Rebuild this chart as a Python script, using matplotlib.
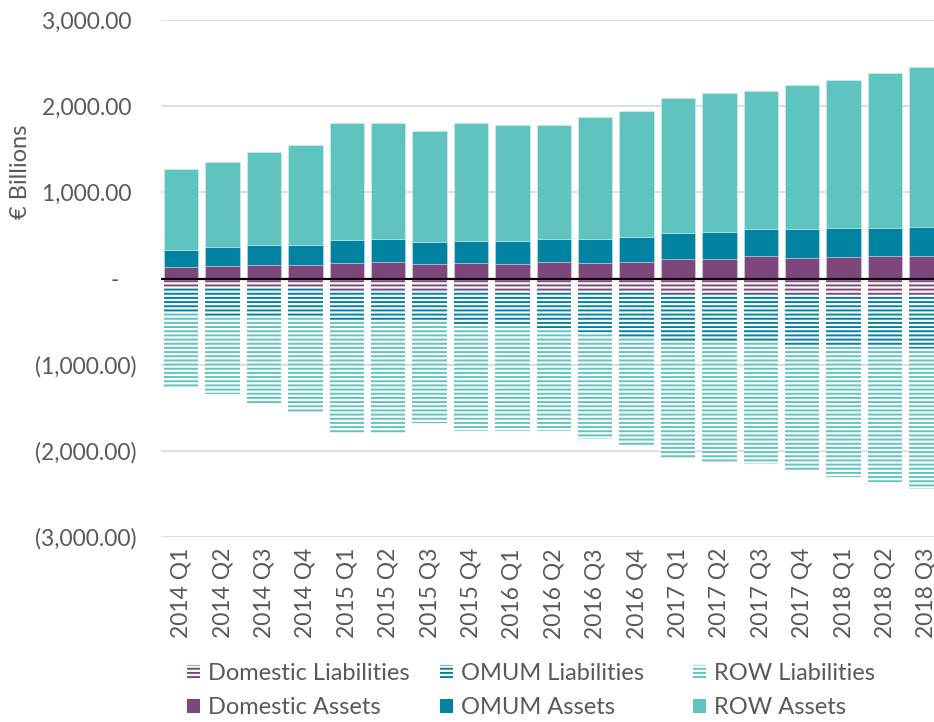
import numpy as np
import matplotlib
matplotlib.use("Agg")
import matplotlib.pyplot as plt
from matplotlib.patches import Patch
from matplotlib.ticker import FixedLocator, FuncFormatter

plt.rcParams['font.family'] = ['Lato', 'DejaVu Sans']
plt.rcParams['hatch.linewidth'] = 1.4

quarters = ['2014 Q1', '2014 Q2', '2014 Q3', '2014 Q4',
            '2015 Q1', '2015 Q2', '2015 Q3', '2015 Q4',
            '2016 Q1', '2016 Q2', '2016 Q3', '2016 Q4',
            '2017 Q1', '2017 Q2', '2017 Q3', '2017 Q4',
            '2018 Q1', '2018 Q2', '2018 Q3']

# € billions
domestic_assets = [128, 140, 151, 156, 179, 186, 167, 179, 174, 190,
                   183, 190, 223, 228, 256, 240, 248, 256, 263]
omum_assets = [206, 229, 233, 228, 271, 267, 252, 259, 256, 271,
               278, 287, 306, 310, 317, 330, 333, 329, 337]
row_assets = [933, 984, 1089, 1171, 1357, 1346, 1287, 1361, 1346, 1326,
              1411, 1465, 1570, 1610, 1606, 1674, 1721, 1803, 1850]

domestic_liabilities = [105, 110, 115, 120, 135, 135, 130, 135, 140, 145,
                        150, 160, 175, 180, 185, 185, 186, 190, 195]
omum_liabilities = [280, 330, 330, 325, 360, 365, 370, 405, 410, 435,
                    470, 530, 555, 555, 555, 590, 594, 605, 615]
row_liabilities = [882, 904, 1020, 1108, 1307, 1302, 1174, 1231, 1221, 1187,
                   1244, 1247, 1370, 1400, 1418, 1469, 1522, 1565, 1632]

y_ticks = [3000, 2000, 1000, 0, -1000, -2000, -3000]

c_dom = '#7E477C'
c_omum = '#0082A0'
c_row = '#5FC4C0'
text_c = '#595959'
grid_c = '#D9D9D9'

fig = plt.figure(figsize=(9.34, 7.22), dpi=100)
left_px, right_px, top_px, bottom_px = 160.5, 934, 20, 537
W, H = 934, 722
ax = fig.add_axes([left_px / W, 1 - bottom_px / H,
                   (right_px - left_px) / W, (bottom_px - top_px) / H])

x = np.arange(len(quarters))
bw = 0.83
da = np.array(domestic_assets)
oa = np.array(omum_assets)
ra = np.array(row_assets)
dl = -np.array(domestic_liabilities)
ol = -np.array(omum_liabilities)
rl = -np.array(row_liabilities)

edge_kw = dict(edgecolor=(1, 1, 1, 0.35), linewidth=0.6)
ax.bar(x, da, bw, color=c_dom, zorder=3, **edge_kw)
ax.bar(x, oa, bw, bottom=da, color=c_omum, zorder=3, **edge_kw)
ax.bar(x, ra, bw, bottom=da + oa, color=c_row, zorder=3, **edge_kw)

hatch = '----'
ax.bar(x, dl, bw, facecolor='white', edgecolor=c_dom, linewidth=0, hatch=hatch, zorder=3)
ax.bar(x, ol, bw, bottom=dl, facecolor='white', edgecolor=c_omum, linewidth=0, hatch=hatch, zorder=3)
ax.bar(x, rl, bw, bottom=dl + ol, facecolor='white', edgecolor=c_row, linewidth=0, hatch=hatch, zorder=3)

ax.axhline(0, color='black', linewidth=1.6, zorder=4)

ax.set_ylim(-3000, 3000)
ax.set_xlim(-0.5, -0.5 + (right_px - left_px) / 41.4)
ax.yaxis.set_major_locator(FixedLocator(y_ticks))


def acct(v, pos=None):
    if v == 0:
        return '-   '
    if v < 0:
        return '({:,.2f})'.format(-v)
    return '{:,.2f} '.format(v)


ax.yaxis.set_major_formatter(FuncFormatter(acct))
ax.grid(axis='y', color=grid_c, linewidth=1.2, zorder=0)
ax.set_axisbelow(True)
for s in ax.spines.values():
    s.set_visible(False)
ax.tick_params(axis='y', length=0, pad=17, labelsize=16.5, labelcolor=text_c)
ax.tick_params(axis='x', length=0, pad=8, labelsize=16.5, labelcolor=text_c)
ax.set_xticks(x)
ax.set_xticklabels(quarters, rotation=90)

ax.set_ylabel('€ Billions', fontsize=17, color=text_c)
ax.yaxis.set_label_coords((31 - left_px) / (right_px - left_px), (537 - 172) / 517)

# legend: three columns of equal pitch, liabilities on top, assets below
pairs = [
    (Patch(facecolor='white', edgecolor=c_dom, linewidth=0, hatch=hatch, label='Domestic Liabilities'),
     Patch(facecolor=c_dom, label='Domestic Assets')),
    (Patch(facecolor='white', edgecolor=c_omum, linewidth=0, hatch=hatch, label='OMUM Liabilities'),
     Patch(facecolor=c_omum, label='OMUM Assets')),
    (Patch(facecolor='white', edgecolor=c_row, linewidth=0, hatch=hatch, label='ROW Liabilities'),
     Patch(facecolor=c_row, label='ROW Assets')),
]
col_x = [187, 440, 693]
for px, hs in zip(col_x, pairs):
    leg = fig.legend(handles=list(hs), loc='upper left', bbox_to_anchor=(px / W, 1 - 663 / H),
                     frameon=False, fontsize=17, handlelength=0.55, handleheight=0.55,
                     handletextpad=0.35, labelspacing=0.55, borderpad=0, borderaxespad=0)
    for t in leg.get_texts():
        t.set_color(text_c)

fig.savefig('out.png', dpi=100)
